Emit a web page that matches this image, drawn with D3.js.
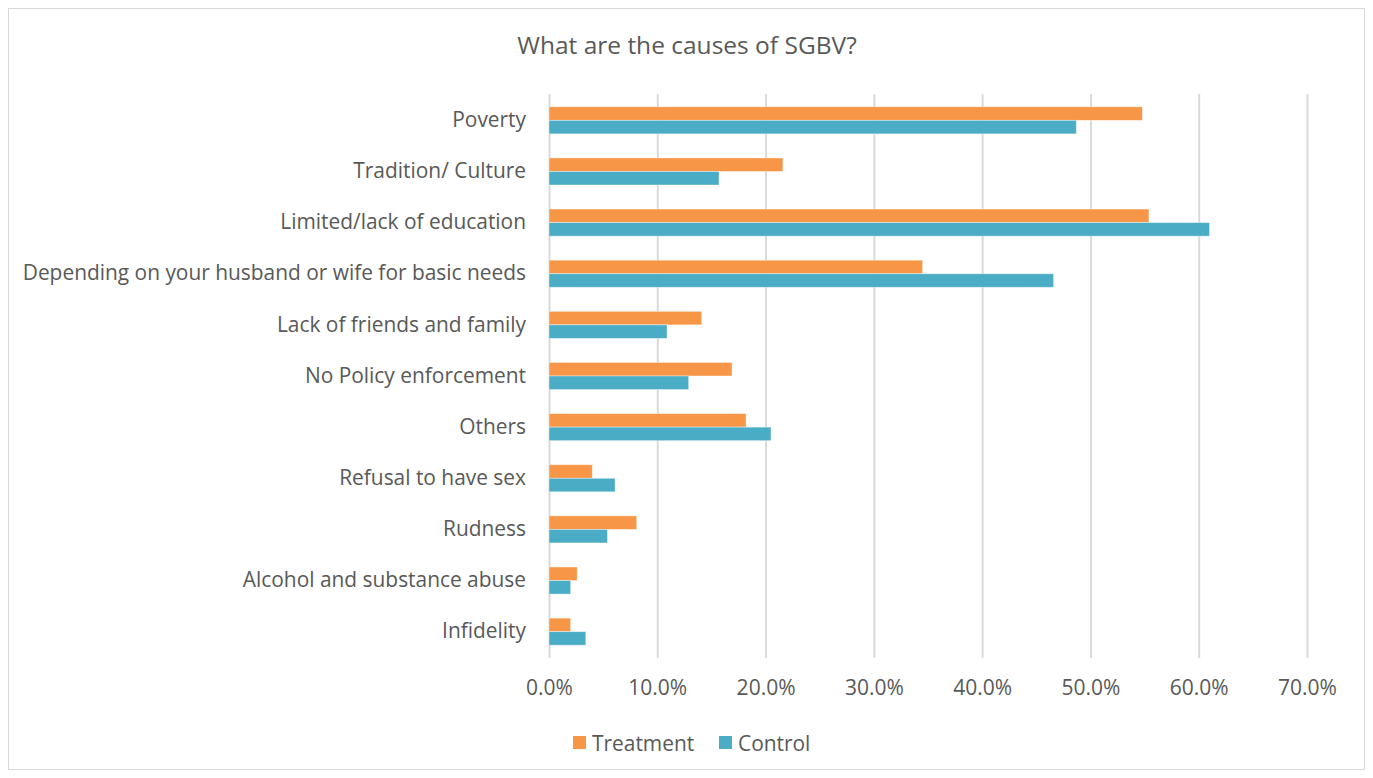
<!DOCTYPE html>
<html>
<head>
<meta charset="utf-8">
<script src="https://cdn.jsdelivr.net/npm/d3@7"></script>
<style>
  html, body { margin: 0; padding: 0; background: #fff; }
  svg text { font-family: "Open Sans", Lato, sans-serif; fill: #595959; }
</style>
</head>
<body>
<svg id="chart" width="1373" height="778"></svg>
<script>
// Survey responses: causes of SGBV, share of respondents per group
const categories = [
  "Poverty",
  "Tradition/ Culture",
  "Limited/lack of education",
  "Depending on your husband or wife for basic needs",
  "Lack of friends and family",
  "No Policy enforcement",
  "Others",
  "Refusal to have sex",
  "Rudness",
  "Alcohol and substance abuse",
  "Infidelity"
];
const seriesNames = ["Treatment", "Control"];
const treatment = [0.548, 0.216, 0.554, 0.345, 0.141, 0.169, 0.182, 0.040, 0.081, 0.026, 0.020];
const control   = [0.487, 0.157, 0.610, 0.466, 0.109, 0.129, 0.205, 0.061, 0.054, 0.020, 0.034];
const tickValues = [0, 0.1, 0.2, 0.3, 0.4, 0.5, 0.6, 0.7];
const colors = ["#F79646", "#4BACC6"];

const svg = d3.select("#chart");
const W = 1373, H = 778;

// chart frame
svg.append("rect")
  .attr("x", 8.5).attr("y", 8.5)
  .attr("width", W - 17).attr("height", H - 17)
  .attr("fill", "#fff").attr("stroke", "#D9D9D9").attr("stroke-width", 1);

// title
svg.append("text")
  .attr("x", 687).attr("y", 54)
  .attr("text-anchor", "middle")
  .attr("font-size", 24.5)
  .text("What are the causes of SGBV?");

const plot = { left: 549, right: 1307, top: 94, bottom: 658 };

const x = d3.scaleLinear().domain([0, 0.7]).range([plot.left, plot.right]);
const y = d3.scaleBand().domain(categories).range([plot.top, plot.bottom]).paddingInner(0.47).paddingOuter(0.25);
const sub = d3.scaleBand().domain(seriesNames).range([0, y.bandwidth()]);

// vertical gridlines + axis labels
const xAxis = d3.axisBottom(x)
  .tickValues(tickValues)
  .tickFormat(d3.format(".1%"))
  .tickSize(-(plot.bottom - plot.top))
  .tickPadding(22);

const gx = svg.append("g")
  .attr("transform", `translate(0,${plot.bottom})`)
  .call(xAxis);
gx.select(".domain").remove();
gx.selectAll(".tick line").attr("stroke", "#D9D9D9").attr("stroke-width", 2);
gx.selectAll(".tick text").attr("font-size", 21).attr("fill", "#595959");

// category labels
const gy = svg.append("g")
  .attr("transform", `translate(${plot.left},0)`)
  .call(d3.axisLeft(y).tickSize(0).tickPadding(23));
gy.select(".domain").remove();
gy.selectAll(".tick text").attr("font-size", 20.9).attr("fill", "#595959");

// bars
const rows = categories.map((c, i) => ({ cat: c, vals: [treatment[i], control[i]] }));
const groups = svg.append("g").selectAll("g")
  .data(rows).join("g")
  .attr("transform", d => `translate(0,${y(d.cat)})`);

groups.selectAll("rect")
  .data(d => d.vals.map((v, j) => ({ name: seriesNames[j], v, j })))
  .join("rect")
  .attr("x", x(0))
  .attr("y", d => sub(d.name))
  .attr("width", d => x(d.v) - x(0))
  .attr("height", sub.bandwidth())
  .attr("fill", d => colors[d.j])
  .attr("stroke", "#fff").attr("stroke-opacity", 0.5).attr("stroke-width", 0.8);

// legend
const legend = svg.append("g").attr("transform", "translate(573,743)");
const items = [{ name: "Treatment", dx: 0 }, { name: "Control", dx: 146 }];
items.forEach((it, i) => {
  const g = legend.append("g").attr("transform", `translate(${it.dx},0)`);
  g.append("rect").attr("x", 0).attr("y", -7).attr("width", 13).attr("height", 13).attr("fill", colors[i]);
  g.append("text").attr("x", 19).attr("y", 7.5).attr("font-size", 20.9).text(it.name);
});
</script>
</body>
</html>
